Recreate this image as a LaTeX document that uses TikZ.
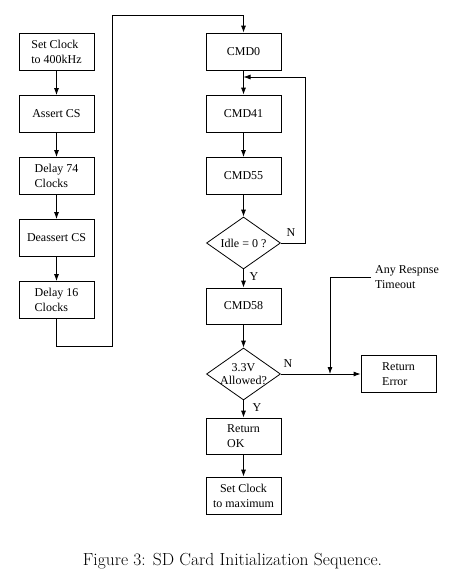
\documentclass[tikz,border=0pt]{standalone}
\usepackage{fontspec}
\newfontfamily\tnr{Liberation Serif}
\usetikzlibrary{shapes.geometric,arrows.meta}
\begin{document}
\begin{tikzpicture}[x=1pt,y=-1pt,
  box/.style={draw,line width=0.8pt,minimum width=75pt,minimum height=37pt,inner sep=0pt,font=\tnr\fontsize{12}{15}\selectfont,align=left},
  dia/.style={draw,line width=0.8pt,diamond,minimum width=74pt,minimum height=52pt,inner sep=0pt},
  txt/.style={font=\tnr\fontsize{12}{15}\selectfont,align=left,inner sep=0pt},
  lbl/.style={font=\tnr\fontsize{12}{14}\selectfont,inner sep=0pt},
  arr/.style={line width=0.8pt,-{Latex[length=7pt,width=5pt]}}]
\useasboundingbox (0,0) rectangle (450,576);
% left column
\node[box] (l1) at (56.5,52) {Set Clock\\to 400kHz};
\node[box] (l2) at (56.5,114) {Assert CS};
\node[box] (l3) at (56.5,176) {Delay 74\\Clocks};
\node[box] (l4) at (56.5,238) {Deassert CS};
\node[box] (l5) at (56.5,300) {Delay 16\\Clocks};
% right column
\node[box] (c0) at (243.5,51.5) {CMD0};
\node[box] (c41) at (243.5,113.5) {CMD41};
\node[box] (c55) at (243.5,176) {CMD55};
\node[dia] (idle) at (243.5,243) {};
\node[txt] (idlet) at (idle) {Idle = 0 ?};
\node[box,minimum height=36pt] (c58) at (243.5,306) {CMD58};
\node[dia] (v33) at (243.5,374) {};
\node[txt,align=center,font=\tnr\fontsize{12}{13}\selectfont] (v33t) at (v33) {3.3V\\Allowed?};
\node[box,minimum height=36pt] (ok) at (243.5,436) {Return\\OK};
\node[box,align=center] (mx) at (243.5,495.5) {Set Clock\\to maximum};
\node[box] (err) at (398.5,374) {Return\\Error};
\node[txt,anchor=west] (tmo) at (375,277) {Any Respnse\\Timeout};
% coordinates
\coordinate (t0) at (112,346);
\coordinate (t1) at (112,15);
\coordinate (t2) at (243.5,15);
\coordinate (r1) at (305,243);
\coordinate (r2) at (305,77);
\coordinate (r3) at (243.5,77);
\coordinate (jn) at (330,374);
% connectors
\draw[arr] (l1) -- (l2);
\draw[arr] (l2) -- (l3);
\draw[arr] (l3) -- (l4);
\draw[arr] (l4) -- (l5);
\draw[arr] (l5.south) |- (t0) -- (t1) -- (t2) -- (c0.north);
\draw[arr] (c0) -- (c41);
\draw[arr] (c41) -- (c55);
\draw[arr] (c55) -- (idle.north);
\draw[arr] (idle.east) -- (r1) -- (r2) -- (r3);
\draw[arr] (idle.south) -- (c58.north);
\draw[arr] (c58) -- (v33.north);
\draw[arr] (v33.south) -- (ok.north);
\draw[arr] (ok) -- (mx);
\draw[arr] (v33.east) -- (err.west);
\draw[arr] (tmo.west) ++(-4,0) -| (jn);
% labels
\node[lbl] (ln1) at (291,233) {N};
\node[lbl] (ly1) at (254,277) {Y};
\node[lbl] (ln2) at (288,364) {N};
\node[lbl] (ly2) at (257,408) {Y};
% caption
\node[font=\fontsize{17.5}{20}\selectfont] (cap) at (232.5,561) {Figure 3: SD Card Initialization Sequence.};
\end{tikzpicture}
\end{document}
